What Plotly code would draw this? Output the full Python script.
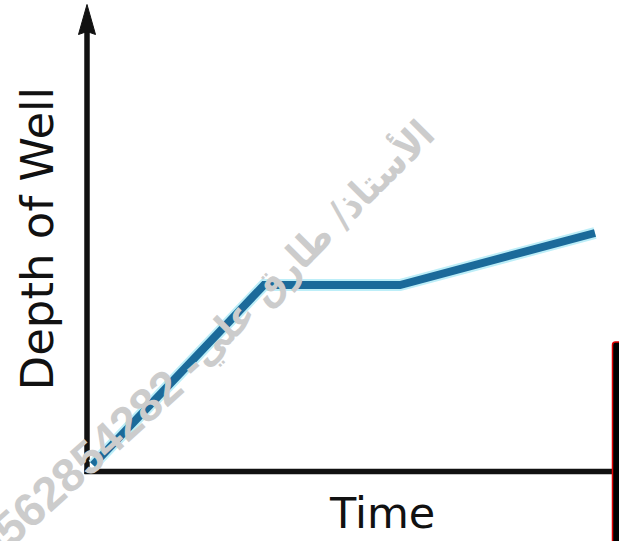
import plotly.graph_objects as go

# Data (arbitrary units)
time_vals = [0.12, 3.54, 6.26, 10.16]
depth_vals = [0.13, 3.73, 3.73, 4.77]

x_label = "Time"
y_label = "Depth of Well"
watermark_num = "0562854282 -"
watermark_ar = "الأستاذ/ طارق علي"

fig = go.Figure()

# light halo under the line
fig.add_trace(go.Scatter(x=time_vals, y=depth_vals, mode="lines",
                         line=dict(color="#bdeef8", width=12),
                         hoverinfo="skip"))
fig.add_trace(go.Scatter(x=time_vals, y=depth_vals, mode="lines",
                         line=dict(color="#1b6a9a", width=8)))

shapes = [
    # y axis
    dict(type="line", xref="x", yref="y", x0=0, y0=-0.05, x1=0, y1=8.85,
         line=dict(color="#111111", width=5.5), layer="below"),
    # x axis
    dict(type="line", xref="x", yref="y", x0=-0.05, y0=0, x1=10.6, y1=0,
         line=dict(color="#111111", width=5.5), layer="below"),
    # arrowhead
    dict(type="path", xref="x", yref="y",
         path="M 0,9.34 L -0.17,8.74 L 0,8.8 L 0.17,8.74 Z",
         fillcolor="#111111", line=dict(color="#111111", width=1), layer="below"),
    # black box at right edge
    dict(type="path", xref="x", yref="y",
         path="M 10.51,-1.6 L 10.51,2.53 Q 10.51,2.59 10.57,2.59 L 10.9,2.59 L 10.9,-1.6 Z",
         fillcolor="#000000", line=dict(color="#e00000", width=1.5), layer="above"),
]

annotations = [
    dict(x=5.9, y=-0.82, xref="x", yref="y", text=x_label, showarrow=False,
         font=dict(family="DejaVu Sans", size=43, color="#111111"),
         xanchor="center", yanchor="middle"),
    dict(x=-1.0, y=4.66, xref="x", yref="y", text=y_label, showarrow=False,
         textangle=-90,
         font=dict(family="DejaVu Sans", size=45, color="#111111"),
         xanchor="center", yanchor="middle"),
    dict(x=0.02, y=0.31, xref="x", yref="y", text=watermark_num, showarrow=False,
         textangle=-42,
         font=dict(family="Liberation Sans", size=47, color="#cccccc",
                   weight="bold"),
         xanchor="center", yanchor="middle"),
    dict(x=4.48, y=4.57, xref="x", yref="y", text=watermark_ar, showarrow=False,
         textangle=-45,
         font=dict(family="DejaVu Sans Condensed, DejaVu Sans", size=39,
                   color="#cccccc", weight="bold"),
         xanchor="center", yanchor="middle"),
]

fig.update_layout(
    width=619, height=541,
    margin=dict(l=0, r=0, t=0, b=0),
    paper_bgcolor="white", plot_bgcolor="white",
    showlegend=False,
    xaxis=dict(range=[-1.74, 10.64], visible=False, fixedrange=True),
    yaxis=dict(range=[-1.39, 9.43], visible=False, fixedrange=True),
    shapes=shapes,
    annotations=annotations,
)

fig.write_html("out.html", config={"displayModeBar": False},
               post_script="document.body.style.margin='0px';")
